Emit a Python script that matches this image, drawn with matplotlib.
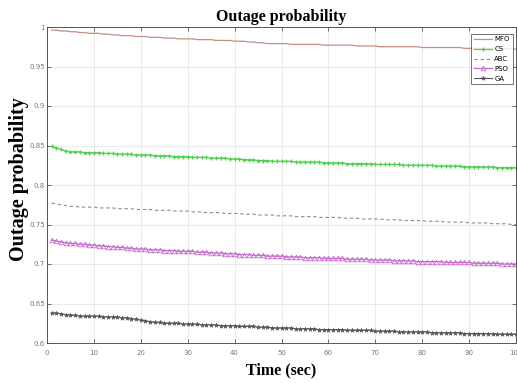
import numpy as np
import matplotlib
matplotlib.use("Agg")
import matplotlib.pyplot as plt

TIME = list(range(1, 101))

MFO = [0.996, 0.996, 0.995, 0.995, 0.994, 0.994, 0.993, 0.993, 0.992, 0.992,
       0.992, 0.991, 0.991, 0.990, 0.990, 0.989, 0.989, 0.989, 0.988, 0.988,
       0.988, 0.987, 0.987, 0.987, 0.986, 0.986, 0.986, 0.985, 0.985, 0.985,
       0.985, 0.984, 0.984, 0.984, 0.984, 0.983, 0.983, 0.983, 0.983, 0.982,
       0.982, 0.982, 0.981, 0.981, 0.980, 0.980, 0.979, 0.979, 0.979, 0.979,
       0.979, 0.978, 0.978, 0.978, 0.978, 0.978, 0.978, 0.978, 0.977, 0.977,
       0.977, 0.977, 0.977, 0.977, 0.977, 0.976, 0.976, 0.976, 0.976, 0.976,
       0.975, 0.975, 0.975, 0.975, 0.975, 0.975, 0.975, 0.975, 0.975, 0.974,
       0.974, 0.974, 0.974, 0.974, 0.974, 0.974, 0.974, 0.974, 0.973, 0.973,
       0.973, 0.973, 0.973, 0.973, 0.973, 0.973, 0.973, 0.972, 0.972, 0.972]

CS = [0.849, 0.847, 0.845, 0.843, 0.842, 0.842, 0.842, 0.841, 0.841, 0.841,
      0.841, 0.840, 0.840, 0.840, 0.839, 0.839, 0.839, 0.839, 0.838, 0.838,
      0.838, 0.838, 0.837, 0.837, 0.837, 0.837, 0.836, 0.836, 0.836, 0.836,
      0.835, 0.835, 0.835, 0.835, 0.834, 0.834, 0.834, 0.834, 0.833, 0.833,
      0.833, 0.832, 0.832, 0.832, 0.831, 0.831, 0.831, 0.830, 0.830, 0.830,
      0.830, 0.830, 0.829, 0.829, 0.829, 0.829, 0.829, 0.829, 0.828, 0.828,
      0.828, 0.828, 0.828, 0.827, 0.827, 0.827, 0.827, 0.827, 0.827, 0.826,
      0.826, 0.826, 0.826, 0.826, 0.826, 0.825, 0.825, 0.825, 0.825, 0.825,
      0.825, 0.825, 0.824, 0.824, 0.824, 0.824, 0.824, 0.824, 0.823, 0.823,
      0.823, 0.823, 0.823, 0.823, 0.823, 0.822, 0.822, 0.822, 0.822, 0.822]

ABC = [0.777, 0.776, 0.775, 0.774, 0.773, 0.773, 0.772, 0.772, 0.772, 0.772,
       0.771, 0.771, 0.771, 0.771, 0.770, 0.770, 0.770, 0.770, 0.769, 0.769,
       0.769, 0.769, 0.768, 0.768, 0.768, 0.768, 0.767, 0.767, 0.767, 0.767,
       0.766, 0.766, 0.766, 0.765, 0.765, 0.765, 0.765, 0.764, 0.764, 0.764,
       0.764, 0.763, 0.763, 0.763, 0.762, 0.762, 0.762, 0.762, 0.761, 0.761,
       0.761, 0.761, 0.760, 0.760, 0.760, 0.760, 0.760, 0.759, 0.759, 0.759,
       0.759, 0.759, 0.758, 0.758, 0.758, 0.758, 0.757, 0.757, 0.757, 0.757,
       0.757, 0.756, 0.756, 0.756, 0.756, 0.755, 0.755, 0.755, 0.755, 0.755,
       0.754, 0.754, 0.754, 0.754, 0.753, 0.753, 0.753, 0.753, 0.753, 0.752,
       0.752, 0.752, 0.752, 0.752, 0.751, 0.751, 0.751, 0.751, 0.750, 0.750]

PSO = [0.730, 0.729, 0.728, 0.727, 0.726, 0.726, 0.725, 0.725, 0.724, 0.724,
       0.723, 0.723, 0.722, 0.722, 0.721, 0.721, 0.720, 0.720, 0.719, 0.719,
       0.719, 0.718, 0.718, 0.718, 0.717, 0.717, 0.717, 0.716, 0.716, 0.716,
       0.716, 0.715, 0.715, 0.715, 0.714, 0.714, 0.714, 0.713, 0.713, 0.713,
       0.712, 0.712, 0.712, 0.711, 0.711, 0.711, 0.710, 0.710, 0.710, 0.710,
       0.709, 0.709, 0.709, 0.709, 0.708, 0.708, 0.708, 0.708, 0.707, 0.707,
       0.707, 0.707, 0.707, 0.706, 0.706, 0.706, 0.706, 0.706, 0.705, 0.705,
       0.705, 0.705, 0.705, 0.704, 0.704, 0.704, 0.704, 0.704, 0.703, 0.703,
       0.703, 0.703, 0.703, 0.703, 0.702, 0.702, 0.702, 0.702, 0.702, 0.702,
       0.701, 0.701, 0.701, 0.701, 0.701, 0.701, 0.700, 0.700, 0.700, 0.700]

GA = [0.638, 0.638, 0.637, 0.636, 0.635, 0.635, 0.634, 0.634, 0.634, 0.634,
      0.634, 0.633, 0.633, 0.633, 0.633, 0.632, 0.632, 0.631, 0.630, 0.629,
      0.628, 0.627, 0.626, 0.626, 0.625, 0.625, 0.625, 0.625, 0.624, 0.624,
      0.624, 0.624, 0.623, 0.623, 0.623, 0.623, 0.622, 0.622, 0.622, 0.622,
      0.621, 0.621, 0.621, 0.621, 0.620, 0.620, 0.620, 0.619, 0.619, 0.619,
      0.619, 0.619, 0.618, 0.618, 0.618, 0.618, 0.618, 0.617, 0.617, 0.617,
      0.617, 0.617, 0.617, 0.616, 0.616, 0.616, 0.616, 0.616, 0.616, 0.615,
      0.615, 0.615, 0.615, 0.615, 0.614, 0.614, 0.614, 0.614, 0.614, 0.614,
      0.614, 0.613, 0.613, 0.613, 0.613, 0.613, 0.613, 0.613, 0.612, 0.612,
      0.612, 0.612, 0.612, 0.612, 0.612, 0.611, 0.611, 0.611, 0.611, 0.611]

X_TICKS = list(range(0, 101, 10))
Y_TICKS = [0.6, 0.65, 0.7, 0.75, 0.8, 0.85, 0.9, 0.95, 1.0]
Y_TICK_LABELS = ["0.6", "0.65", "0.7", "0.75", "0.8", "0.85", "0.9", "0.95", "1"]

fig = plt.figure(figsize=(5.17, 3.83), dpi=100)
ax = fig.add_axes([47 / 517, 1 - 343 / 383, 469 / 517, 316 / 383])

ax.plot(TIME, MFO, color="#c98a80", linewidth=0.9, label="MFO")
ax.plot(TIME, CS, color="#4fd04f", linewidth=0.9, marker="+", markersize=3.5,
        markeredgewidth=0.9, label="CS")
ax.plot(TIME, ABC, color="#8a8a90", linewidth=0.8, linestyle=(0, (3, 2.5)), label="ABC")
ax.plot(TIME, PSO, color="#c468cc", linewidth=0.9, marker="^", markersize=3.3,
        markerfacecolor="none", markeredgewidth=0.6, label="PSO")
ax.plot(TIME, GA, color="#555555", linewidth=0.8, marker="*", markersize=3.2,
        markeredgewidth=0.4, label="GA")

ax.set_xlim(0, 100)
ax.set_ylim(0.6, 1.0)
ax.set_xticks(X_TICKS)
ax.set_yticks(Y_TICKS)
ax.set_yticklabels(Y_TICK_LABELS)
ax.tick_params(direction="in", labelsize=5, labelcolor="#777777", length=3,
               width=0.6, color="#555555", top=True, right=True)
ax.tick_params(axis="x", pad=5)
ax.tick_params(axis="y", pad=1.5)
ax.grid(True, color="#e6e6e6", linewidth=0.6)
for spine in ax.spines.values():
    spine.set_linewidth(0.7)
    spine.set_color("#555555")

ax.set_title("Outage probability", fontsize=11.5, fontweight="bold",
             family="Liberation Serif", pad=4)
ax.set_xlabel("Time (sec)", fontsize=11.5, fontweight="bold",
              family="Liberation Serif", labelpad=5)
ax.set_ylabel("Outage probability", fontsize=14.5, fontweight="bold",
              family="Liberation Serif")
ax.yaxis.set_label_coords(-0.039, 0.52)

leg = ax.legend(loc="upper right", fontsize=5, frameon=True, fancybox=False,
                handlelength=2.6, borderpad=0.4, labelspacing=0.55,
                handletextpad=0.3, bbox_to_anchor=(1.0, 0.99))
leg.get_frame().set_edgecolor("#333333")
leg.get_frame().set_linewidth(0.6)

fig.savefig("out.png", dpi=100)
